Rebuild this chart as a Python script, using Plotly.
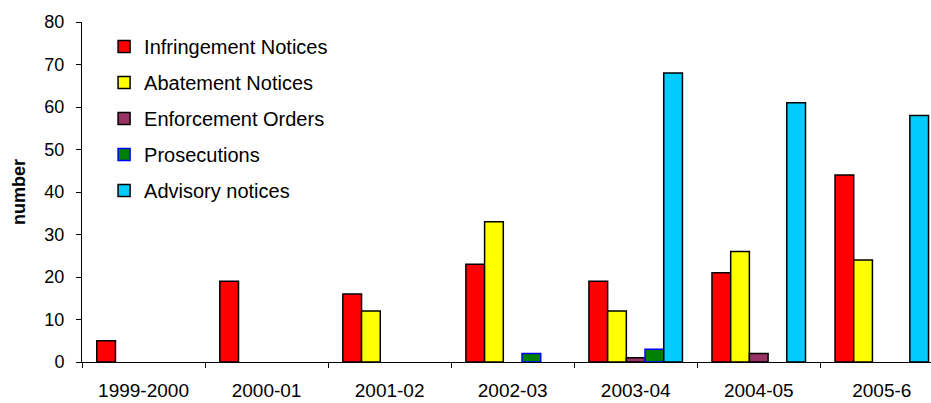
import plotly.graph_objects as go

years = ["1999-2000", "2000-01", "2001-02", "2002-03", "2003-04", "2004-05", "2005-6"]
# None marks a year with no entry for that category
infringement = [5, 19, 16, 23, 19, 21, 44]
abatement = [None, None, 12, 33, 12, 26, 24]
enforcement = [None, None, None, None, 1, 2, None]
prosecutions = [None, None, None, 2, 3, None, None]
advisory = [None, None, None, None, 68, 61, 58]

series = [
    ("Infringement Notices", infringement, "#FF0000", "#000000"),
    ("Abatement Notices", abatement, "#FFFF00", "#000000"),
    ("Enforcement Orders", enforcement, "#993366", "#000000"),
    ("Prosecutions", prosecutions, "#008000", "#0000FF"),
    ("Advisory notices", advisory, "#00CCFF", "#000000"),
]

FONT = "Arial, 'Liberation Sans', sans-serif"

fig = go.Figure()
for i, (name, vals, fill, edge) in enumerate(series):
    fig.add_trace(go.Bar(
        name=name,
        x=years,
        y=vals,
        marker=dict(color=fill, line=dict(color=edge, width=1.5)),
        legendgroup=f"g{i}",
    ))

fig.update_layout(
    width=931,
    height=403,
    margin=dict(l=82, r=0, t=22, b=41),
    paper_bgcolor="white",
    plot_bgcolor="white",
    barmode="group",
    bargap=0.24,
    bargroupgap=0,
    font=dict(family=FONT, color="black", size=18),
    showlegend=True,
    legend=dict(
        x=0.026, y=0.985, xanchor="left", yanchor="top",
        xref="paper", yref="paper",
        bgcolor="rgba(0,0,0,0)",
        font=dict(family=FONT, size=20, color="black"),
        traceorder="grouped",
        tracegroupgap=7,
        itemclick=False,
    ),
    xaxis=dict(
        type="category",
        range=[-0.5, 6.4],
        showline=True, linecolor="black", linewidth=1,
        ticks="outside", tickson="boundaries", ticklen=5, tickcolor="black",
        showgrid=False, zeroline=False,
        tickfont=dict(size=19),
        ticklabelstandoff=11,
        fixedrange=True,
    ),
    yaxis=dict(
        range=[0, 80],
        dtick=10,
        showline=True, linecolor="black", linewidth=1,
        ticks="outside", ticklen=5, tickcolor="black",
        showgrid=False, zeroline=False,
        tickfont=dict(size=18),
        ticklabelstandoff=8,
        title=dict(text="<b>number</b>", font=dict(size=18), standoff=14),
        fixedrange=True,
    ),
)

fig.write_html("out.html")
